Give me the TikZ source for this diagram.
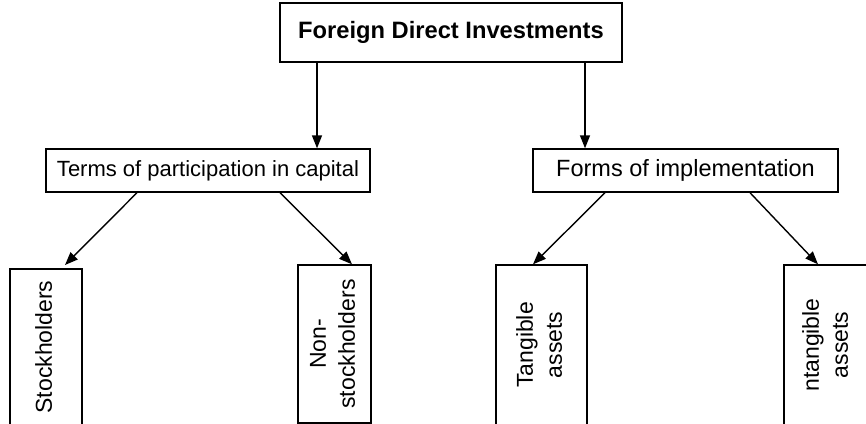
\documentclass[tikz,border=0pt]{standalone}
\usepackage{fontspec}
\setmainfont{Liberation Sans}
\usetikzlibrary{arrows.meta}
\newcommand{\vtext}[1]{\rotatebox{90}{\begin{tabular}{@{}c@{}}#1\end{tabular}}}
\tikzset{
  box/.style={draw=black, line width=1.4pt, inner sep=0pt, fill=white},
  arr/.style={line width=1.4pt, -{Triangle[length=13pt,width=10pt]}},
  vfont/.style={font=\fontsize{23}{29}\selectfont}
}
\begin{document}
\begin{tikzpicture}[x=1pt,y=-1pt]
\useasboundingbox (0,0) rectangle (866,423);
\clip (0,0) rectangle (866,423);
\fill[white] (0,0) rectangle (866,423);
% top
\node[box, minimum width=342pt, minimum height=59pt, font=\bfseries\fontsize{23.7}{28}\selectfont] (top) at (451,32.5) {Foreign Direct Investments};
% second level
\node[box, minimum width=324pt, minimum height=43pt, font=\fontsize{22}{26}\selectfont] (terms) at (208,170.5) {Terms of participation in capital};
\node[box, minimum width=305pt, minimum height=43pt, font=\fontsize{23.5}{28}\selectfont] (forms) at (685.5,170.5) {Forms of implementation};
% third level
\node[box, vfont, minimum width=72pt, minimum height=156pt] (stock) at (46,347) {\vtext{Stockholders}};
\node[box, vfont, minimum width=73pt, minimum height=158pt] (non) at (334.5,344) {\vtext{Non-\\stockholders}};
\node[box, vfont, minimum width=91pt, minimum height=160pt] (tang) at (541.5,345) {\vtext{Tangible\\assets}};
\node[box, vfont, minimum width=87pt, minimum height=160pt] (intang) at (827.5,345) {\vtext{ntangible\\assets}};
% helper coordinates
\coordinate (c1) at (317,0);
\coordinate (c2) at (585,0);
\coordinate (s1) at (137,0);
\coordinate (s2) at (280,0);
\coordinate (s3) at (605,0);
\coordinate (s4) at (750,0);
\coordinate (e1) at (65,265);
\coordinate (e2) at (352,0);
\coordinate (e3) at (533,0);
\coordinate (e4) at (818,0);
% connectors
\draw[arr] (top.south -| c1) -- (terms.north -| c1);
\draw[arr] (top.south -| c2) -- (forms.north -| c2);
\draw[arr] (terms.south -| s1) -- (e1);
\draw[arr] (terms.south -| s2) -- (non.north -| e2);
\draw[arr] (forms.south -| s3) -- (tang.north -| e3);
\draw[arr] (forms.south -| s4) -- (intang.north -| e4);
\end{tikzpicture}
\end{document}
